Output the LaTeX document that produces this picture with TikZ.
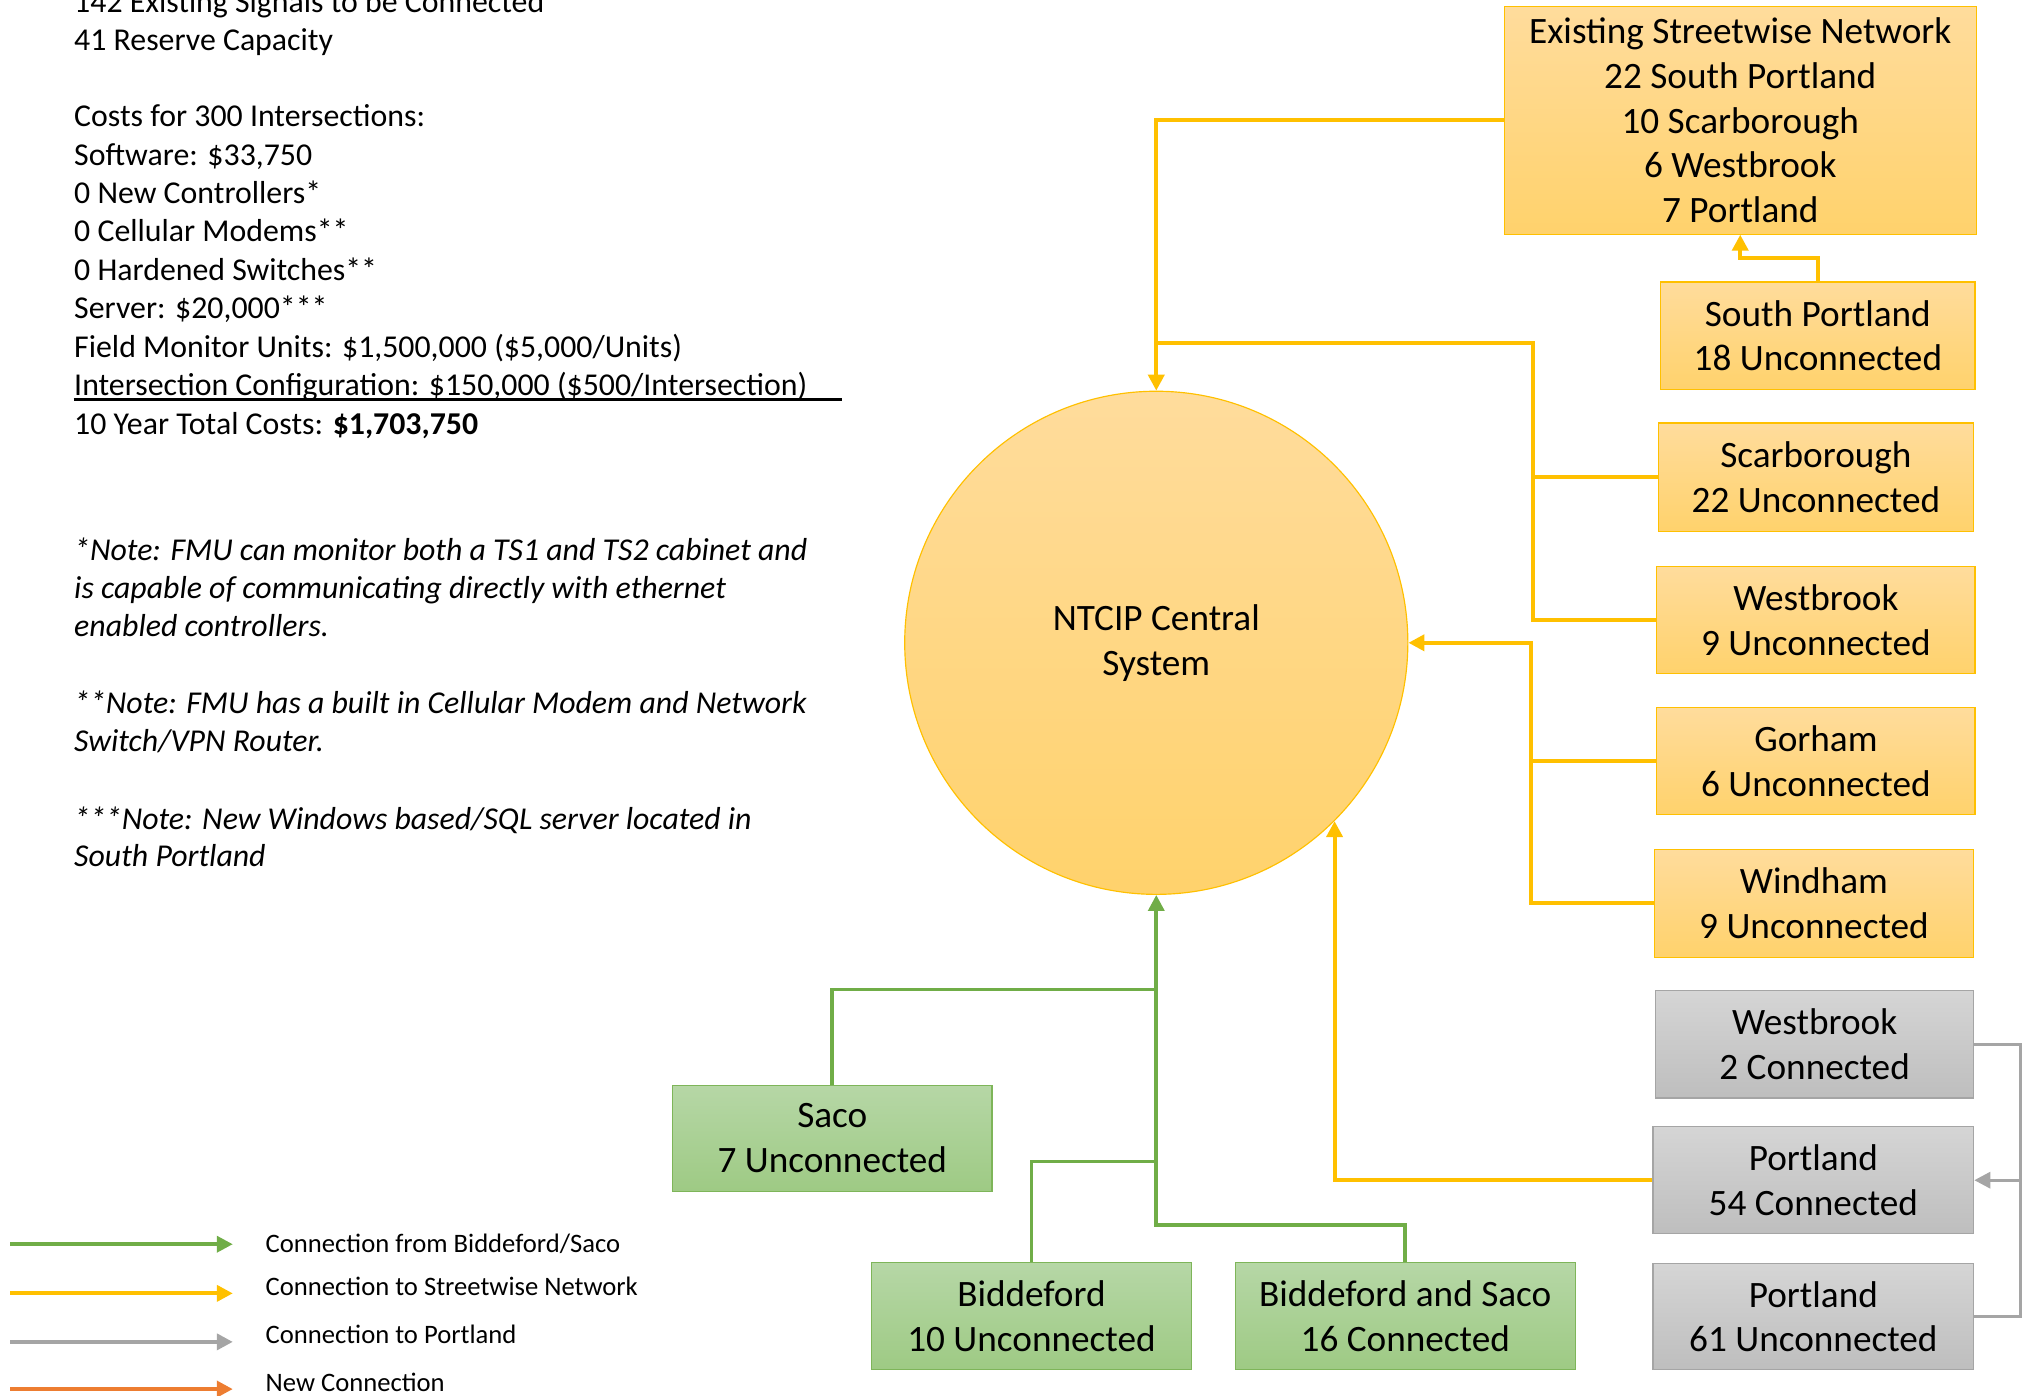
\documentclass[tikz,border=0pt]{standalone}
\usepackage{fontspec}
\setmainfont{Carlito}
\usetikzlibrary{arrows.meta,calc}
\definecolor{ylw}{HTML}{FFC000}
\definecolor{ytop}{HTML}{FFDC9C}
\definecolor{ybot}{HTML}{FFD26C}
\definecolor{gln}{HTML}{70AD47}
\definecolor{gtop}{HTML}{B6D7A6}
\definecolor{gbot}{HTML}{9ECA84}
\definecolor{gry}{HTML}{A5A5A5}
\definecolor{rtop}{HTML}{D5D5D5}
\definecolor{rbot}{HTML}{BEBEBE}
\definecolor{org}{HTML}{ED7D31}
\tikzset{
  >={Triangle[length=6.2pt,width=6.2pt]},
  boxbase/.style={draw, line width=0.45pt, inner sep=0pt, align=center,
    minimum width=123pt, minimum height=41.5pt,
    font=\fontsize{14.4}{17.3}\selectfont},
  ybox/.style={boxbase, draw=ylw, top color=ytop, bottom color=ybot},
  gbox/.style={boxbase, draw=gln!90, top color=gtop, bottom color=gbot},
  rbox/.style={boxbase, draw=gry, top color=rtop, bottom color=rbot},
  yline/.style={draw=ylw, line width=1.5pt},
  gline/.style={draw=gln, line width=1.4pt},
  rline/.style={draw=gry, line width=1.2pt},
  oline/.style={draw=org, line width=1.5pt},
  maintxt/.style={anchor=base west, inner sep=0pt, font=\fontsize{12.3}{14.85}\selectfont},
  notetxt/.style={maintxt, font=\fontsize{12.3}{14.85}\selectfont\itshape},
  legtxt/.style={anchor=base west, inner sep=0pt, font=\fontsize{10.3}{12.4}\selectfont}
}
\begin{document}
\begin{tikzpicture}[x=0.5pt,y=-0.5pt]
\useasboundingbox (0,0) rectangle (1568,1079);

% left text
\node[maintxt] (t0) at (57,9.3) {142 Existing Signals to be Connected};
\node[maintxt] (t1) at (57,39) {41 Reserve Capacity};
\node[maintxt] (t2) at (57,98) {Costs for 300 Intersections:};
\node[maintxt] (t3) at (57,127.7) {Software: \$33,750};
\node[maintxt] (t4) at (57,157.4) {0 New Controllers*};
\node[maintxt] (t5) at (57,187.1) {0 Cellular Modems**};
\node[maintxt] (t6) at (57,216.8) {0 Hardened Switches**};
\node[maintxt] (t7) at (57,246.5) {Server: \$20,000***};
\node[maintxt] (t8) at (57,276.2) {Field Monitor Units: \$1,500,000 (\$5,000/Units)};
\node[maintxt] (t9) at (57,305.9) {Intersection Configuration: \$150,000 (\$500/Intersection)};
\node[maintxt] (t10) at (57,335.6) {10 Year Total Costs: \textbf{\$1,703,750}};
\coordinate (ul1) at (57,309);
\coordinate (ul2) at (651,309);
\draw[line width=1pt] (ul1) -- (ul2);

% notes
\node[notetxt] (n1) at (57,433) {*Note: FMU can monitor both a TS1 and TS2 cabinet and};
\node[notetxt] (n2) at (57,463) {is capable of communicating directly with ethernet};
\node[notetxt] (n3) at (57,492) {enabled controllers.};
\node[notetxt] (n4) at (57,552) {**Note: FMU has a built in Cellular Modem and Network};
\node[notetxt] (n5) at (57,581) {Switch/VPN Router.};
\node[notetxt] (n6) at (57,641) {***Note: New Windows based/SQL server located in};
\node[notetxt] (n7) at (57,670) {South Portland};

% central circle
\node[circle, draw=ylw, line width=0.45pt, top color=ytop, bottom color=ybot,
  minimum size=194.5pt, inner sep=0pt, align=center,
  font=\fontsize{14.4}{17.3}\selectfont] (circ) at (894,497) {NTCIP Central\\System};

% yellow boxes
\node[ybox, minimum width=182.5pt, minimum height=88pt] (sw) at (1345.5,93)
  {Existing Streetwise Network\\22 South Portland\\10 Scarborough\\6 Westbrook\\7 Portland};
\node[ybox, minimum width=121.5pt] (sp) at (1405.5,259.5) {South Portland\\18 Unconnected};
\node[ybox, minimum width=122pt, minimum height=42pt] (scar) at (1404,369) {Scarborough\\22 Unconnected};
\node[ybox] (wb) at (1404,479.5) {Westbrook\\9 Unconnected};
\node[ybox] (gor) at (1404,588.5) {Gorham\\6 Unconnected};
\node[ybox, minimum width=123.5pt] (wind) at (1402.5,698.5) {Windham\\9 Unconnected};

% gray boxes
\node[rbox] (wb2) at (1403,807.5) {Westbrook\\2 Connected};
\node[rbox, minimum width=124pt] (p54) at (1402,912.5) {Portland\\54 Connected};
\node[rbox, minimum width=124pt, minimum height=41pt] (p61) at (1402,1018) {Portland\\61 Unconnected};

% green boxes
\node[gbox, minimum width=123.5pt, minimum height=41pt] (saco) at (643.5,880) {Saco\\7 Unconnected};
\node[gbox, minimum width=123.5pt] (bid) at (797.5,1017.5) {Biddeford\\10 Unconnected};
\node[gbox, minimum width=131.5pt] (bs) at (1086.5,1017.5) {Biddeford and Saco\\16 Connected};

% yellow connectors
\draw[yline,->] (sw.west) -| (circ.north);
\draw[yline,->] (sp.north) -- ++(0,-18) -| (sw.south);
\coordinate (j1) at (1185,265);
\draw[yline] (wb.west) -| (j1) -- (j1 -| circ.north);
\draw[yline] (scar.west) -- (scar.west -| j1);
\coordinate (j2) at (1184,497);
\draw[yline,->] (wind.west) -| (j2) -- (circ.east);
\draw[yline] (gor.west) -- (gor.west -| j2);
\draw[yline,->] (p54.west) -| (circ.-45);

% gray connectors
\coordinate (gx) at (1562,808);
\draw[rline] (wb2.east) -- (wb2.east -| gx) |- (p61.east);
\draw[rline,->] (p54.east -| gx) -- (p54.east);

% green connectors
\coordinate (g1) at (894,765);
\coordinate (g2) at (894,898);
\coordinate (g3) at (894,947);
\draw[gline,->] (bs.north) |- (g3) -- (circ.south);
\draw[gline] (bid.north) |- (g2);
\draw[gline] (saco.north) |- (g1);

% legend
\coordinate (a1s) at (8,962);   \coordinate (a1e) at (180,962);
\coordinate (a2s) at (8,1000);  \coordinate (a2e) at (180,1000);
\coordinate (a3s) at (8,1037.5);\coordinate (a3e) at (180,1037.5);
\coordinate (a4s) at (8,1074);  \coordinate (a4e) at (180,1074);
\draw[gline,->] (a1s) -- (a1e);
\draw[yline,->] (a2s) -- (a2e);
\draw[rline,line width=1.5pt,->] (a3s) -- (a3e);
\draw[oline,->] (a4s) -- (a4e);
\node[legtxt] (l1) at (205,968.6) {Connection from Biddeford/Saco};
\node[legtxt] (l2) at (205,1001.6) {Connection to Streetwise Network};
\node[legtxt] (l3) at (205,1038.6) {Connection to Portland};
\node[legtxt] (l4) at (205,1075.6) {New Connection};
\end{tikzpicture}
\end{document}
